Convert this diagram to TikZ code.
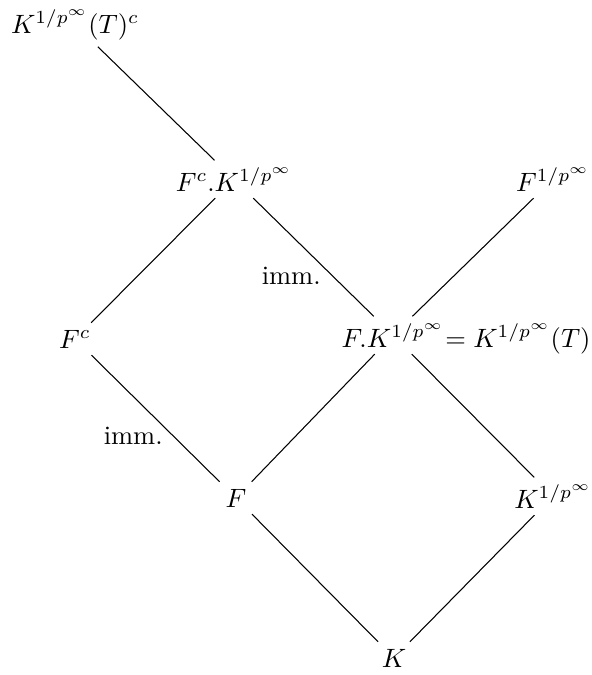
\documentclass[tikz,border=0pt]{standalone}
\usetikzlibrary{calc}
\begin{document}
\begin{tikzpicture}[x=0.3774pt,y=-0.3774pt,
  obj/.style={anchor=base, inner sep=2.5pt},
  edge/.style={line width=0.4pt},
  lbl/.style={inner sep=0pt}]
\useasboundingbox (0,0) rectangle (592,675);
\node[obj] (a)   at (75,33)   {$K^{1/p^\infty}(T)^c$};
\node[obj] (fck) at (234,191) {$F^c.K^{1/p^\infty}$};
\node[obj] (fp)  at (553,191) {$F^{1/p^\infty}$};
\node[obj] (fc)  at (75,348)  {$F^c$};
\node[obj] (fk)  at (393,347) {$F.K^{1/p^\infty}$};
\node[anchor=base west, inner sep=0pt, xshift=-2.5pt] (fkr) at (fk.base east) {$=K^{1/p^\infty}(T)$};
\node[obj] (f)   at (236,507) {$F$};
\node[obj] (kp)  at (553,508) {$K^{1/p^\infty}$};
\node[obj] (k)   at (394,667) {$K$};
\draw[edge] (a) -- (fck);
\draw[edge] (fck) -- (fc);
\draw[edge] (fck) -- (fk) node[lbl, midway, xshift=-8.4pt, yshift=-6.9pt] (l1) {imm.};
\draw[edge] (fp) -- (fk);
\draw[edge] (fc) -- (f) node[lbl, midway, xshift=-8.4pt, yshift=-6.6pt] (l2) {imm.};
\draw[edge] (fk) -- (f);
\draw[edge] (fk) -- (kp);
\draw[edge] (f) -- (k);
\draw[edge] (kp) -- (k);
\end{tikzpicture}
\end{document}
